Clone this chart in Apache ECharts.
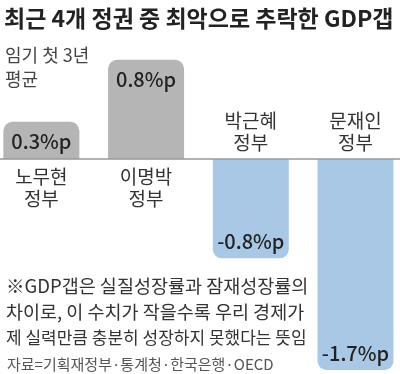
<!DOCTYPE html>
<html><head><meta charset="utf-8">
<script src="https://cdn.jsdelivr.net/npm/echarts@6/dist/echarts.min.js"></script>
<style>html,body{margin:0;padding:0;background:#fff}#c{width:400px;height:374px}</style>
</head><body><div id="c"></div>
<script>
const categories = ['노무현\n정부', '이명박\n정부', '박근혜\n정부', '문재인\n정부'];
const values = [0.3, 0.8, -0.8, -1.7];
const valueLabels = ['0.3%p', '0.8%p', '-0.8%p', '-1.7%p'];
const titleText = '최근 4개 정권 중 최악으로 추락한 GDP갭';
const subtitleText = '임기 첫 3년\n평균';
const noteLines = ['※GDP갭은 실질성장률과 잠재성장률의', '차이로, 이 수치가 작을수록 우리 경제가', '제 실력만큼 충분히 성장하지 못했다는 뜻임'];
const sourceText = '자료=기획재정부·통계청·한국은행·OECD';

const FONT = '"Noto Sans CJK KR", "Noto Sans", sans-serif';
const GRAY = '#b5b5b5', BLUE = '#a8c8e6';

const chart = echarts.init(document.getElementById('c'));
chart.setOption({
  animation: false,
  textStyle: { fontFamily: FONT },
  title: [
    { text: titleText, left: -1, top: 2, textStyle: { fontSize: 23, fontWeight: 'bold', color: '#222', fontFamily: FONT } },
    { text: subtitleText, left: 0, top: 38, textStyle: { fontSize: 18, fontWeight: 'normal', color: '#444', lineHeight: 24, fontFamily: FONT } },
    {
      text: '{a|' + noteLines[0] + '}\n{b|' + noteLines[1] + '}\n{c|' + noteLines[2] + '}',
      left: 1, top: 268,
      textStyle: {
        fontFamily: FONT, color: '#333', fontWeight: 'normal', lineHeight: 26,
        rich: {
          a: { fontSize: 18.5, lineHeight: 26, color: '#333', fontFamily: FONT },
          b: { fontSize: 18.5, lineHeight: 26, color: '#333', fontFamily: FONT },
          c: { fontSize: 17, lineHeight: 26, color: '#333', fontFamily: FONT }
        }
      }
    },
    { text: sourceText, left: 2, top: 352, textStyle: { fontSize: 15, fontWeight: 'normal', color: '#555', fontFamily: FONT } }
  ],
  grid: { left: 0, right: 0, top: 35, height: 335, containLabel: false },
  xAxis: {
    type: 'value', min: -0.395, max: 3.425,
    axisLine: { show: false }, axisTick: { show: false }, axisLabel: { show: false }, splitLine: { show: false }
  },
  yAxis: {
    type: 'value', min: -1.7, max: 1.0, show: false, splitLine: { show: false }
  },
  series: [
    {
      type: 'bar', barWidth: 76, barGap: '-100%',
      markLine: {
        silent: true, symbol: 'none', label: { show: false },
        lineStyle: { color: '#999', width: 1.5, type: 'solid' },
        data: [{ yAxis: 0 }]
      },
      data: values.map((v, i) => ({
        value: [i, v],
        itemStyle: { color: v >= 0 ? GRAY : BLUE, borderRadius: v >= 0 ? [9, 9, 0, 0] : [0, 0, 9, 9] },
        label: {
          show: true, position: v >= 0 ? 'insideTop' : 'insideBottom', distance: v >= 0 ? 10 : 7,
          formatter: valueLabels[i], fontSize: 20, fontWeight: 500, color: '#222', fontFamily: FONT
        }
      }))
    },
    {
      type: 'bar', barWidth: 76, barGap: '-100%', silent: true,
      itemStyle: { color: 'transparent' },
      data: values.map((v, i) => ({
        value: [i, 0],
        label: {
          show: true, position: v >= 0 ? 'bottom' : 'top', distance: v >= 0 ? 7 : 5,
          formatter: categories[i], fontSize: 19, lineHeight: 22, color: '#333', fontFamily: FONT
        }
      }))
    }
  ]
});
</script></body></html>
